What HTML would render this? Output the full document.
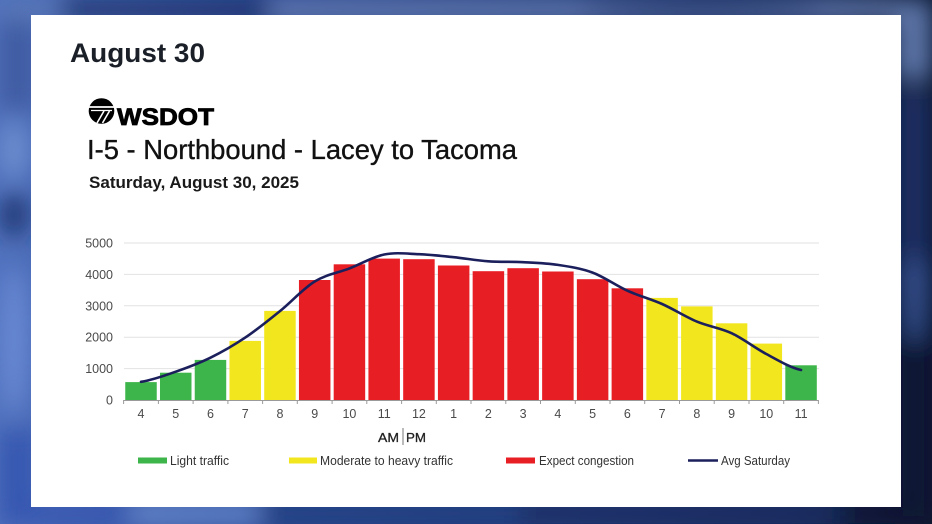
<!DOCTYPE html>
<html>
<head>
<meta charset="utf-8">
<style>
  html,body{margin:0;padding:0;}
  body{width:932px;height:524px;overflow:hidden;background:#1c3472;}
  svg{display:block;}
  text{font-family:"Liberation Sans",sans-serif;}
</style>
</head>
<body>
<svg width="932" height="524" viewBox="0 0 932 524" xmlns="http://www.w3.org/2000/svg">
  <defs>
    <linearGradient id="bg" x1="0" y1="0" x2="1" y2="0">
      <stop offset="0" stop-color="#4f70bc"/>
      <stop offset="0.3" stop-color="#2c4a96"/>
      <stop offset="0.6" stop-color="#1f3a7a"/>
      <stop offset="0.85" stop-color="#152b5e"/>
      <stop offset="1" stop-color="#08152f"/>
    </linearGradient>
    <filter id="blur" x="0" y="0" width="932" height="524" filterUnits="userSpaceOnUse">
      <feGaussianBlur stdDeviation="12"/>
    </filter>
    <clipPath id="frame"><rect x="0" y="0" width="932" height="524"/></clipPath>
  </defs>

  <!-- background -->
  <rect x="0" y="0" width="932" height="524" fill="url(#bg)"/>
  <g clip-path="url(#frame)">
  <g filter="url(#blur)">
    <!-- top strip -->
    <rect x="270" y="0" width="662" height="20" fill="#6a80b2"/>
    <rect x="60" y="0" width="210" height="18" fill="#1c3068"/>
    <rect x="0" y="0" width="60" height="20" fill="#5a78b8"/>
    <ellipse cx="700" cy="8" rx="120" ry="6" fill="#24386e"/>
    <!-- right side -->
    <rect x="895" y="0" width="37" height="80" fill="#5d76a8"/>
    <rect x="895" y="90" width="37" height="200" fill="#1a2f62"/>
    <ellipse cx="915" cy="300" rx="14" ry="45" fill="#34508c"/>
    <rect x="895" y="340" width="37" height="184" fill="#0b1836"/>
    <!-- left side -->
    <rect x="0" y="20" width="35" height="90" fill="#3f5ca2"/>
    <ellipse cx="14" cy="150" rx="14" ry="30" fill="#7090d0"/>
    <ellipse cx="14" cy="215" rx="14" ry="22" fill="#1e3470"/>
    <ellipse cx="14" cy="340" rx="14" ry="75" fill="#6a8ad6"/>
    <rect x="0" y="430" width="35" height="94" fill="#3456b0"/>
    <!-- bottom strip -->
    <rect x="0" y="503" width="130" height="21" fill="#3454b0"/>
    <rect x="130" y="503" width="130" height="21" fill="#6688cc"/>
    <rect x="260" y="503" width="260" height="21" fill="#22407f"/>
    <rect x="520" y="503" width="320" height="21" fill="#1a2e62"/>
    <rect x="840" y="503" width="92" height="21" fill="#0a1430"/>
  </g>
  </g>

  <!-- card -->
  <rect x="31" y="15" width="870" height="492" fill="#ffffff"/>

  <!-- header texts -->
  <text x="70" y="62" font-size="27" font-weight="bold" fill="#1a1f28" textLength="135" lengthAdjust="spacingAndGlyphs">August 30</text>

  <!-- WSDOT logo -->
  <circle cx="101.5" cy="111" r="12.8" fill="#000"/>
  <line x1="89" y1="107" x2="114" y2="107" stroke="#fff" stroke-width="1.8"/>
  <line x1="91" y1="110.5" x2="112" y2="110.5" stroke="#fff" stroke-width="1.2"/>
  <line x1="104" y1="111" x2="97" y2="123" stroke="#fff" stroke-width="1.6"/>
  <line x1="109.5" y1="111" x2="102.5" y2="123" stroke="#fff" stroke-width="1.6"/>
  <text x="117" y="125" font-size="24" font-weight="bold" fill="#000" stroke="#000" stroke-width="0.8" textLength="97" lengthAdjust="spacingAndGlyphs">WSDOT</text>

  <text x="87" y="159" font-size="27.5" fill="#111" stroke="#111" stroke-width="0.35" textLength="430" lengthAdjust="spacingAndGlyphs">I-5 - Northbound - Lacey to Tacoma</text>
  <text x="89" y="188" font-size="17" font-weight="bold" fill="#1a1a1a" textLength="210" lengthAdjust="spacingAndGlyphs">Saturday, August 30, 2025</text>

  <!-- gridlines -->
  <g stroke="#e2e2e2" stroke-width="1">
    <line x1="124" y1="243" x2="819" y2="243"/>
    <line x1="124" y1="274.4" x2="819" y2="274.4"/>
    <line x1="124" y1="305.8" x2="819" y2="305.8"/>
    <line x1="124" y1="337.2" x2="819" y2="337.2"/>
    <line x1="124" y1="368.6" x2="819" y2="368.6"/>
  </g>

  <!-- y labels -->
  <g font-size="12.5" fill="#4a4a4a" text-anchor="end">
    <text x="113" y="247.5">5000</text>
    <text x="113" y="278.9">4000</text>
    <text x="113" y="310.3">3000</text>
    <text x="113" y="341.7">2000</text>
    <text x="113" y="373.1">1000</text>
    <text x="113" y="404.5">0</text>
  </g>

  <!-- bars -->
  <g>
    <rect x="125.25" y="382.1" width="31.5" height="17.9" fill="#3db54a"/>
    <rect x="159.99" y="372.7" width="31.5" height="27.3" fill="#3db54a"/>
    <rect x="194.73" y="359.9" width="31.5" height="40.1" fill="#3db54a"/>
    <rect x="229.47" y="340.9" width="31.5" height="59.1" fill="#f2e71e"/>
    <rect x="264.21" y="310.9" width="31.5" height="89.1" fill="#f2e71e"/>
    <rect x="298.95" y="280.0" width="31.5" height="120.0" fill="#e81e25"/>
    <rect x="333.69" y="264.3" width="31.5" height="135.7" fill="#e81e25"/>
    <rect x="368.43" y="258.6" width="31.5" height="141.4" fill="#e81e25"/>
    <rect x="403.17" y="259.2" width="31.5" height="140.8" fill="#e81e25"/>
    <rect x="437.91" y="265.5" width="31.5" height="134.5" fill="#e81e25"/>
    <rect x="472.65" y="271.2" width="31.5" height="128.8" fill="#e81e25"/>
    <rect x="507.39" y="268.2" width="31.5" height="131.8" fill="#e81e25"/>
    <rect x="542.13" y="271.5" width="31.5" height="128.5" fill="#e81e25"/>
    <rect x="576.87" y="279.2" width="31.5" height="120.8" fill="#e81e25"/>
    <rect x="611.61" y="288.3" width="31.5" height="111.7" fill="#e81e25"/>
    <rect x="646.35" y="297.9" width="31.5" height="102.1" fill="#f2e71e"/>
    <rect x="681.09" y="306.4" width="31.5" height="93.6" fill="#f2e71e"/>
    <rect x="715.83" y="323.3" width="31.5" height="76.7" fill="#f2e71e"/>
    <rect x="750.57" y="343.6" width="31.5" height="56.4" fill="#f2e71e"/>
    <rect x="785.31" y="365.3" width="31.5" height="34.7" fill="#3db54a"/>
  </g>

  <!-- x axis -->
  <line x1="123.6" y1="400.5" x2="818.5" y2="400.5" stroke="#9a9a9a" stroke-width="1"/>
  <g stroke="#9a9a9a" stroke-width="1">
    <line x1="123.6" y1="400" x2="123.6" y2="404"/>
    <line x1="158.4" y1="400" x2="158.4" y2="404"/>
    <line x1="193.1" y1="400" x2="193.1" y2="404"/>
    <line x1="227.9" y1="400" x2="227.9" y2="404"/>
    <line x1="262.6" y1="400" x2="262.6" y2="404"/>
    <line x1="297.3" y1="400" x2="297.3" y2="404"/>
    <line x1="332.1" y1="400" x2="332.1" y2="404"/>
    <line x1="366.8" y1="400" x2="366.8" y2="404"/>
    <line x1="401.6" y1="400" x2="401.6" y2="404"/>
    <line x1="436.3" y1="400" x2="436.3" y2="404"/>
    <line x1="471.0" y1="400" x2="471.0" y2="404"/>
    <line x1="505.8" y1="400" x2="505.8" y2="404"/>
    <line x1="540.5" y1="400" x2="540.5" y2="404"/>
    <line x1="575.3" y1="400" x2="575.3" y2="404"/>
    <line x1="610.0" y1="400" x2="610.0" y2="404"/>
    <line x1="644.7" y1="400" x2="644.7" y2="404"/>
    <line x1="679.5" y1="400" x2="679.5" y2="404"/>
    <line x1="714.2" y1="400" x2="714.2" y2="404"/>
    <line x1="749.0" y1="400" x2="749.0" y2="404"/>
    <line x1="783.7" y1="400" x2="783.7" y2="404"/>
    <line x1="818.4" y1="400" x2="818.4" y2="404"/>
  </g>

  <!-- x labels -->
  <g font-size="12.5" fill="#4a4a4a" text-anchor="middle">
    <text x="141" y="418">4</text>
    <text x="175.74" y="418">5</text>
    <text x="210.48" y="418">6</text>
    <text x="245.22" y="418">7</text>
    <text x="279.96" y="418">8</text>
    <text x="314.7" y="418">9</text>
    <text x="349.44" y="418">10</text>
    <text x="384.18" y="418">11</text>
    <text x="418.92" y="418">12</text>
    <text x="453.66" y="418">1</text>
    <text x="488.4" y="418">2</text>
    <text x="523.14" y="418">3</text>
    <text x="557.88" y="418">4</text>
    <text x="592.62" y="418">5</text>
    <text x="627.36" y="418">6</text>
    <text x="662.1" y="418">7</text>
    <text x="696.84" y="418">8</text>
    <text x="731.58" y="418">9</text>
    <text x="766.32" y="418">10</text>
    <text x="801.06" y="418">11</text>
  </g>

  <!-- AM | PM -->
  <text x="378" y="442" font-size="13" fill="#222" stroke="#222" stroke-width="0.3" textLength="21" lengthAdjust="spacingAndGlyphs">AM</text>
  <line x1="403" y1="428" x2="403" y2="445" stroke="#777" stroke-width="1"/>
  <text x="406" y="442" font-size="13" fill="#222" stroke="#222" stroke-width="0.3" textLength="20" lengthAdjust="spacingAndGlyphs">PM</text>

  <!-- avg line -->
  <path d="M141,381.8 C152.58,380.12 164.16,375.72 175.74,371.7 C187.32,367.68 198.9,363.38 210.48,357.7 C222.06,352.02 233.64,345.37 245.22,337.6 C256.8,329.83 268.38,320.45 279.96,311.1 C291.54,301.75 303.12,288.62 314.7,281.5 C326.28,274.38 337.86,272.9 349.44,268.4 C361.02,263.9 372.6,256.87 384.18,254.5 C395.76,252.13 407.34,253.75 418.92,254.2 C430.5,254.65 442.08,256.02 453.66,257.2 C465.24,258.38 476.82,260.47 488.4,261.3 C499.98,262.13 511.56,261.6 523.14,262.2 C534.72,262.8 546.3,263.17 557.88,264.9 C569.46,266.63 581.04,268.3 592.62,272.6 C604.2,276.9 615.78,285.47 627.36,290.7 C638.94,295.93 650.52,298.85 662.1,304.0 C673.68,309.15 685.26,316.73 696.84,321.6 C708.42,326.47 720.0,327.8 731.58,333.2 C743.16,338.6 754.74,347.87 766.32,354.0 C777.9,360.13 789.48,367.33 801.06,370.0" fill="none" stroke="#1b1f5c" stroke-width="2.6" stroke-linejoin="round" stroke-linecap="round"/>

  <!-- legend -->
  <rect x="138" y="457.5" width="29" height="6" fill="#3db54a"/>
  <text x="170" y="465" font-size="12.5" fill="#333" textLength="59" lengthAdjust="spacingAndGlyphs">Light traffic</text>
  <rect x="289" y="457.5" width="28" height="6" fill="#f2e71e"/>
  <text x="320" y="465" font-size="12.5" fill="#333" textLength="133" lengthAdjust="spacingAndGlyphs">Moderate to heavy traffic</text>
  <rect x="506" y="457.5" width="29" height="6" fill="#e81e25"/>
  <text x="539" y="465" font-size="12.5" fill="#333" textLength="95" lengthAdjust="spacingAndGlyphs">Expect congestion</text>
  <line x1="688" y1="460.5" x2="718" y2="460.5" stroke="#1b1f5c" stroke-width="2.5"/>
  <text x="721" y="465" font-size="12.5" fill="#333" textLength="69" lengthAdjust="spacingAndGlyphs">Avg Saturday</text>
</svg>
</body>
</html>
